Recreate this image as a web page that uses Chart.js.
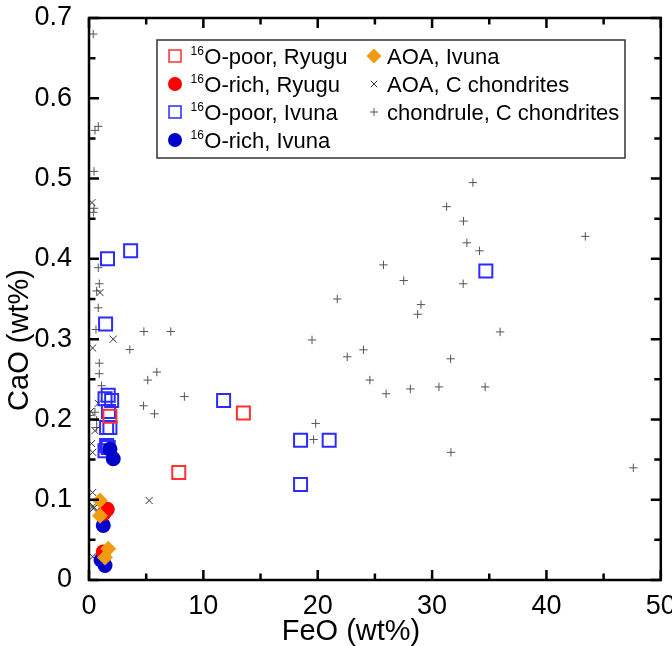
<!DOCTYPE html>
<html>
<head>
<meta charset="utf-8">
<script src="https://cdn.jsdelivr.net/npm/chart.js@4/dist/chart.umd.min.js"></script>
<style>
html,body{margin:0;padding:0;background:#fff;}
#c{display:block;}
</style>
</head>
<body>
<canvas id="c" width="672" height="646"></canvas>
<script>
// ---- data (FeO wt%, CaO wt%) ----
const poorRyugu = [[1.83,0.204],[7.85,0.134],[13.5,0.208]];
const richRyugu = [[1.6,0.088],[1.3,0.083],[1.25,0.035]];
const poorIvuna = [[3.64,0.41],[1.62,0.40],[1.45,0.319],[11.77,0.2235],[18.5,0.174],[21.0,0.174],[18.5,0.119],[34.7,0.385],
  [1.68,0.230],[1.98,0.2235],[1.4,0.2257],[1.7,0.21],[1.54,0.190],[1.83,0.190],[1.54,0.1675],[1.68,0.165],[1.4,0.161]];
const richIvuna = [[1.83,0.163],[2.12,0.151],[1.25,0.068],[1.05,0.025],[1.4,0.018]];
const aoaIvuna = [[0.96,0.099],[0.96,0.080],[1.68,0.039],[1.4,0.028]];
const aoaC = [[0.26,0.470],[0.96,0.358],[2.12,0.300],[0.32,0.289],[0.81,0.220],[0.15,0.210],[0.52,0.186],[0.23,0.170],[0.32,0.159],
  [0.32,0.109],[0.37,0.092],[0.37,0.089],[0.45,0.090],[0.32,0.029],[5.26,0.099]];
const chondrule = [[0.37,0.680],[0.52,0.560],[0.81,0.565],[0.44,0.509],[0.44,0.463],[0.38,0.458],[0.81,0.389],[0.9,0.369],[0.67,0.360],
  [0.81,0.339],[0.61,0.312],[0.9,0.270],[0.9,0.257],[1.1,0.242],[0.09,0.205],[0.52,0.209],[0.67,0.199],[0.67,0.190],
  [4.8,0.3095],[7.15,0.3095],[3.57,0.287],[5.93,0.259],[5.14,0.249],[8.34,0.2285],[4.77,0.217],[5.73,0.207],
  [33.57,0.495],[31.27,0.465],[32.75,0.447],[33.04,0.420],[34.15,0.410],[25.75,0.3925],[27.52,0.373],[32.72,0.369],
  [21.71,0.350],[29.03,0.343],[28.74,0.331],[35.95,0.309],[19.5,0.299],[22.58,0.278],[24.0,0.2867],[31.62,0.2755],
  [24.56,0.249],[25.98,0.232],[28.1,0.238],[30.6,0.2405],[34.64,0.2405],[19.82,0.195],[19.64,0.175],[31.65,0.159],
  [43.4,0.428],[47.6,0.1397]];
const xTicks = [0,10,20,30,40,50];
const yTicks = [0,0.1,0.2,0.3,0.4,0.5,0.6,0.7];
const xTitle = 'FeO (wt%)';
const yTitle = 'CaO (wt%)';
const legendLabels = [
  {sup:'16', text:'O-poor, Ryugu'},
  {sup:'16', text:'O-rich, Ryugu'},
  {sup:'16', text:'O-poor, Ivuna'},
  {sup:'16', text:'O-rich, Ivuna'},
  {sup:'', text:'AOA, Ivuna'},
  {sup:'', text:'AOA, C chondrites'},
  {sup:'', text:'chondrule, C chondrites'}
];

const FONT = "'Liberation Sans', Arial, sans-serif";
const toXY = a => a.map(p => ({x:p[0], y:p[1]}));

const styles = [
  {data:poorRyugu, pointStyle:'rect', r:9.2, fill:'rgba(0,0,0,0)', stroke:'#ff3030', bw:2, order:2},
  {data:richRyugu, pointStyle:'circle', r:7.5, fill:'#ff0000', stroke:'#ff0000', bw:0, order:1},
  {data:poorIvuna, pointStyle:'rect', r:9.2, fill:'rgba(0,0,0,0)', stroke:'#2b2bff', bw:2, order:3},
  {data:richIvuna, pointStyle:'circle', r:7.5, fill:'#0000cc', stroke:'#0000cc', bw:0, order:1.5},
  {data:aoaIvuna, pointStyle:'rectRot', r:8, fill:'#f29a10', stroke:'#f29a10', bw:0, order:0},
  {data:aoaC, pointStyle:'crossRot', r:5, fill:'#333', stroke:'#333', bw:1, order:5},
  {data:chondrule, pointStyle:'cross', r:4.2, fill:'#555', stroke:'#555', bw:1, order:6}
];

const datasets = styles.map((s,i) => ({
  label: legendLabels[i].text,
  data: toXY(s.data),
  pointStyle: s.pointStyle,
  pointRadius: s.r,
  pointHoverRadius: s.r,
  backgroundColor: s.fill,
  borderColor: s.stroke,
  pointBorderWidth: s.bw,
  borderWidth: s.bw,
  order: s.order
}));

function drawSym(ctx, style, x, y, r, s) {
  ctx.save();
  ctx.fillStyle = s.fill; ctx.strokeStyle = s.stroke; ctx.lineWidth = s.bw || 1;
  ctx.beginPath();
  if (style === 'rect') { const h = r*Math.SQRT1_2; ctx.rect(x-h, y-h, 2*h, 2*h); ctx.fill(); ctx.stroke(); }
  else if (style === 'circle') { ctx.arc(x, y, r, 0, Math.PI*2); ctx.fill(); }
  else if (style === 'rectRot') { ctx.moveTo(x, y-r); ctx.lineTo(x+r, y); ctx.lineTo(x, y+r); ctx.lineTo(x-r, y); ctx.closePath(); ctx.fill(); }
  else if (style === 'cross') { ctx.moveTo(x-r, y); ctx.lineTo(x+r, y); ctx.moveTo(x, y-r); ctx.lineTo(x, y+r); ctx.stroke(); }
  else if (style === 'crossRot') { const h = r*Math.SQRT1_2; ctx.moveTo(x-h, y-h); ctx.lineTo(x+h, y+h); ctx.moveTo(x+h, y-h); ctx.lineTo(x-h, y+h); ctx.stroke(); }
  ctx.restore();
}

const framePlugin = {
  id: 'frame',
  afterDatasetsDraw(chart) {
    const ctx = chart.ctx, a = chart.chartArea, xs = chart.scales.x, ys = chart.scales.y;
    ctx.save();
    ctx.strokeStyle = '#000'; ctx.lineWidth = 2.5; ctx.lineCap = 'butt';
    ctx.beginPath();
    for (let v = 0; v <= 50; v += 5) {
      const px = xs.getPixelForValue(v);
      const L = (v % 10 === 0) ? 10 : 6.5;
      ctx.moveTo(px, a.bottom); ctx.lineTo(px, a.bottom - L);
      ctx.moveTo(px, a.top); ctx.lineTo(px, a.top + L);
    }
    for (let k = 0; k <= 14; k++) {
      const v = k * 0.05;
      const py = ys.getPixelForValue(v);
      const L = (k % 2 === 0) ? 10 : 6.5;
      ctx.moveTo(a.left, py); ctx.lineTo(a.left + L, py);
      ctx.moveTo(a.right, py); ctx.lineTo(a.right - L, py);
    }
    ctx.stroke();
    ctx.lineWidth = 2.5;
    ctx.strokeRect(a.left, a.top, a.right - a.left, a.bottom - a.top);
    ctx.restore();

    // axis titles
    ctx.save();
    ctx.fillStyle = '#000';
    ctx.font = '29px ' + FONT;
    ctx.textAlign = 'center';
    ctx.textBaseline = 'middle';
    ctx.fillText(xTitle, 351, 632);
    ctx.translate(20, 340);
    ctx.rotate(-Math.PI / 2);
    ctx.fillText(yTitle, 0, 0);
    ctx.restore();

    // legend
    ctx.save();
    const bx = 157, by = 40, bw = 468, bh = 118;
    ctx.fillStyle = '#fff';
    ctx.fillRect(bx, by, bw, bh);
    ctx.strokeStyle = '#333'; ctx.lineWidth = 1.5;
    ctx.strokeRect(bx, by, bw, bh);
    const rowY = [56, 84, 112, 140];
    const legR = [6*Math.SQRT2, 7, 6*Math.SQRT2, 7, 7.5, 4.5, 4];
    legendLabels.forEach((L, i) => {
      const col = i < 4 ? 0 : 1;
      const row = i < 4 ? i : i - 4;
      const y = rowY[row];
      const sx = col === 0 ? 175 : 374;
      const s = styles[i];
      drawSym(ctx, s.pointStyle, sx, y, legR[i], {fill:s.fill, stroke:s.stroke, bw: s.pointStyle==='rect' ? 1.5 : 1});
      let tx = col === 0 ? 190.5 : 387;
      ctx.fillStyle = '#000';
      ctx.textBaseline = 'alphabetic';
      if (L.sup) {
        ctx.font = '12px ' + FONT;
        ctx.fillText(L.sup, tx, y - 1);
        tx += ctx.measureText(L.sup).width + 0.5;
      }
      ctx.font = '22px ' + FONT;
      ctx.fillText(L.text, tx, y + 8);
    });
    ctx.restore();
  }
};

new Chart(document.getElementById('c'), {
  type: 'scatter',
  data: { datasets },
  options: {
    responsive: false,
    animation: false,
    devicePixelRatio: 1,
    layout: { padding: { left: 0, right: 10, top: 18, bottom: 0 } },
    plugins: { legend: { display: false }, tooltip: { enabled: false } },
    scales: {
      x: {
        type: 'linear', min: 0, max: 50,
        afterBuildTicks: s => { s.ticks = xTicks.map(v => ({value: v})); },
        ticks: { font: { family: FONT, size: 27 }, color: '#000', padding: 10, maxRotation: 0 },
        grid: { display: false, drawTicks: false },
        border: { display: false },
        title: { display: false },
        afterFit: s => { s.height = 66; s.paddingLeft = 0; s.paddingRight = 0; }
      },
      y: {
        type: 'linear', min: 0, max: 0.7,
        afterBuildTicks: s => { s.ticks = yTicks.map(v => ({value: v})); },
        ticks: { font: { family: FONT, size: 27 }, color: '#000', padding: 17,
          callback: v => (v === 0 ? '0' : Number(v).toFixed(1)) },
        grid: { display: false, drawTicks: false },
        border: { display: false },
        title: { display: false },
        afterFit: s => { s.width = 89; s.paddingTop = 0; s.paddingBottom = 0; }
      }
    }
  },
  plugins: [framePlugin]
});
</script>
</body>
</html>
